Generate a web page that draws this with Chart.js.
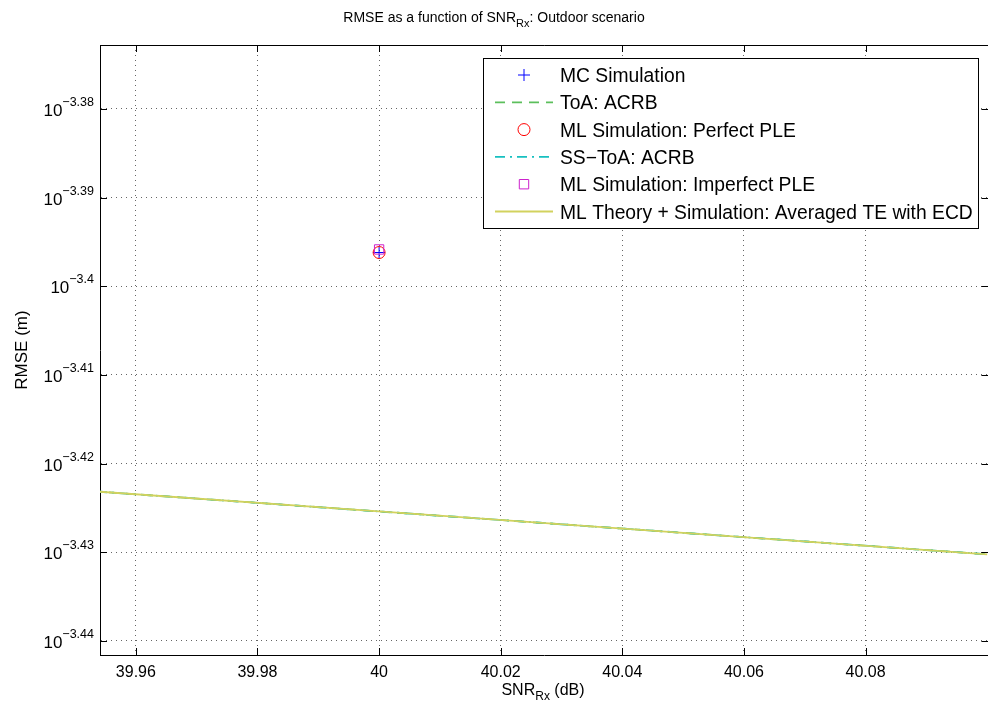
<!DOCTYPE html>
<html>
<head>
<meta charset="utf-8">
<script src="https://cdn.jsdelivr.net/npm/chart.js@4"></script>
<style>
  html, body { margin: 0; padding: 0; background: #fff; overflow: hidden; }
  #wrap { width: 996px; height: 715px; position: relative; }
</style>
</head>
<body>
<div id="wrap"><canvas id="rmseChart"></canvas></div>
<script>
// Data
const snrLine = [39.95, 40, 40.05, 40.1];
const toaAcrb = [3.7759e-4, 3.7549e-4, 3.7341e-4, 3.7133e-4];
const ssToaAcrb = [3.7759e-4, 3.7549e-4, 3.7341e-4, 3.7133e-4];
const mlTheory = [3.7759e-4, 3.7549e-4, 3.7341e-4, 3.7133e-4];
const snrSim = [40];
const mcSim = [4.0161e-4];
const mlPerfect = [4.0161e-4];
const mlImperfect = [4.0193e-4];

const xTicks = [39.96, 39.98, 40, 40.02, 40.04, 40.06, 40.08];
const yTicks = [3.6308e-4, 3.7154e-4, 3.8019e-4, 3.8905e-4, 3.9811e-4, 4.0738e-4, 4.1687e-4];
const yTickExp = ['\u22123.44', '\u22123.43', '\u22123.42', '\u22123.41', '\u22123.4', '\u22123.39', '\u22123.38'];

const FONT = '"Liberation Sans", Arial, Helvetica, sans-serif';

const toXY = (xs, ys) => xs.map((x, i) => ({ x: x, y: ys[i] }));

const series = [
  { label: 'MC Simulation', data: toXY(snrSim, mcSim), color: '#0000ff', kind: 'cross' },
  { label: 'ToA: ACRB', data: toXY(snrLine, toaAcrb), color: '#5cbf5c', kind: 'line', dash: [10, 7] },
  { label: 'ML Simulation: Perfect PLE', data: toXY(snrSim, mlPerfect), color: '#ff0000', kind: 'circle' },
  { label: 'SS\u2212ToA: ACRB', data: toXY(snrLine, ssToaAcrb), color: '#17c0c0', kind: 'line', dash: [10, 5, 2, 5] },
  { label: 'ML Simulation: Imperfect PLE', data: toXY(snrSim, mlImperfect), color: '#cc22cc', kind: 'rect' },
  { label: 'ML Theory + Simulation: Averaged TE with ECD', data: toXY(snrLine, mlTheory), color: '#d2d25e', kind: 'line', dash: [] },
];

const datasets = series.map((s, i) => {
  if (s.kind === 'line') {
    return {
      label: s.label, data: s.data, borderColor: s.color, borderWidth: 1.8,
      borderDash: s.dash, pointRadius: 0, fill: false, tension: 0, order: 6 - i,
    };
  }
  return {
    label: s.label, data: s.data, showLine: false,
    pointStyle: s.kind, pointRadius: s.kind === 'rect' ? 6.6 : 6,
    pointBorderColor: s.color, pointBackgroundColor: 'rgba(0,0,0,0)',
    pointBorderWidth: 1, order: 6 - i,
  };
});

// draw text made of pieces (for sub/superscripts)
function drawParts(ctx, parts, x, y, align) {
  let total = 0;
  parts.forEach(p => { ctx.font = p.s + 'px ' + FONT; total += ctx.measureText(p.t).width; });
  let cx = align === 'center' ? x - total / 2 : align === 'right' ? x - total : x;
  ctx.textAlign = 'left';
  ctx.textBaseline = 'alphabetic';
  parts.forEach(p => {
    ctx.font = p.s + 'px ' + FONT;
    ctx.fillText(p.t, cx, y + (p.dy || 0));
    cx += ctx.measureText(p.t).width;
  });
}

function drawMarker(ctx, kind, x, y, color) {
  ctx.save();
  ctx.strokeStyle = color;
  ctx.lineWidth = 1;
  ctx.beginPath();
  if (kind === 'cross') {
    ctx.moveTo(x - 6, y); ctx.lineTo(x + 6, y);
    ctx.moveTo(x, y - 6); ctx.lineTo(x, y + 6);
  } else if (kind === 'circle') {
    ctx.arc(x, y, 6, 0, Math.PI * 2);
  } else if (kind === 'rect') {
    ctx.rect(x - 4.7, y - 4.7, 9.4, 9.4);
  }
  ctx.stroke();
  ctx.restore();
}

const decorPlugin = {
  id: 'decor',
  afterDraw(chart) {
    const ctx = chart.ctx;
    const a = chart.chartArea;
    const xs = chart.scales.x, ys = chart.scales.y;
    ctx.save();
    ctx.fillStyle = '#000';
    ctx.strokeStyle = '#000';
    ctx.lineWidth = 1;

    // top border and inward tick marks
    ctx.beginPath();
    ctx.moveTo(a.left, a.top + 0.5); ctx.lineTo(a.right, a.top + 0.5);
    xTicks.forEach(v => {
      const px = Math.round(xs.getPixelForValue(v)) + 0.5;
      ctx.moveTo(px, a.bottom); ctx.lineTo(px, a.bottom - 7);
      ctx.moveTo(px, a.top); ctx.lineTo(px, a.top + 7);
    });
    yTicks.forEach(v => {
      const py = Math.round(ys.getPixelForValue(v)) + 0.5;
      ctx.moveTo(a.left, py); ctx.lineTo(a.left + 7, py);
      ctx.moveTo(a.right, py); ctx.lineTo(a.right - 7, py);
    });
    ctx.stroke();

    // x tick labels
    ctx.font = '16px ' + FONT;
    ctx.textAlign = 'center';
    ctx.textBaseline = 'alphabetic';
    xTicks.forEach(v => {
      ctx.fillText(String(v), xs.getPixelForValue(v), a.bottom + 22);
    });

    // y tick labels 10^exp
    yTicks.forEach((v, i) => {
      const py = ys.getPixelForValue(v);
      drawParts(ctx, [{ t: '10', s: 17 }, { t: yTickExp[i], s: 12.5, dy: -10 }], a.left - 6, py + 7, 'right');
    });

    // title and axis labels
    drawParts(ctx, [{ t: 'RMSE as a function of SNR', s: 14 }, { t: 'Rx', s: 11, dy: 5 }, { t: ': Outdoor scenario', s: 14 }], 494, 22, 'center');
    drawParts(ctx, [{ t: 'SNR', s: 16 }, { t: 'Rx', s: 12, dy: 5 }, { t: ' (dB)', s: 16 }], 543, a.bottom + 40, 'center');
    ctx.save();
    ctx.translate(27, (a.top + a.bottom) / 2);
    ctx.rotate(-Math.PI / 2);
    drawParts(ctx, [{ t: 'RMSE (m)', s: 17 }], 0, 0, 'center');
    ctx.restore();

    // legend box
    const lx = 483, ly = 58, lw = 495, lh = 170;
    ctx.fillStyle = '#fff';
    ctx.fillRect(lx, ly, lw, lh);
    ctx.strokeRect(lx + 0.5, ly + 0.5, lw, lh);
    series.forEach((s, i) => {
      const ry = 75 + i * 27.3;
      if (s.kind === 'line') {
        ctx.save();
        ctx.strokeStyle = s.color;
        ctx.lineWidth = 1.8;
        ctx.setLineDash(s.dash);
        ctx.beginPath();
        ctx.moveTo(495, ry); ctx.lineTo(553, ry);
        ctx.stroke();
        ctx.restore();
      } else {
        drawMarker(ctx, s.kind, 524, ry, s.color);
      }
      ctx.fillStyle = '#000';
      drawParts(ctx, [{ t: s.label, s: 19.3 }], 560, ry + 7, 'left');
    });
    ctx.restore();
  }
};

const gridOpts = {
  drawTicks: false,
  color: 'rgba(0,0,0,0.6)',
  lineWidth: 1,
};

new Chart(document.getElementById('rmseChart'), {
  type: 'line',
  data: { datasets: datasets },
  options: {
    responsive: true,
    maintainAspectRatio: false,
    animation: false,
    layout: { padding: { left: 100, top: 45, right: 0, bottom: 60 } },
    plugins: { legend: { display: false }, tooltip: { enabled: false } },
    scales: {
      x: {
        type: 'linear',
        min: 39.9541,
        max: 40.1002,
        ticks: { display: false },
        grid: gridOpts,
        border: { display: true, color: '#000', width: 1, dash: [1, 4] },
        afterBuildTicks: s => { s.ticks = xTicks.map(v => ({ value: v })); },
      },
      y: {
        type: 'logarithmic',
        min: 3.6175e-4,
        max: 4.2385e-4,
        ticks: { display: false },
        grid: gridOpts,
        border: { display: true, color: '#000', width: 1, dash: [1, 4] },
        afterBuildTicks: s => { s.ticks = yTicks.map(v => ({ value: v })); },
      },
    },
  },
  plugins: [decorPlugin],
});
</script>
</body>
</html>
